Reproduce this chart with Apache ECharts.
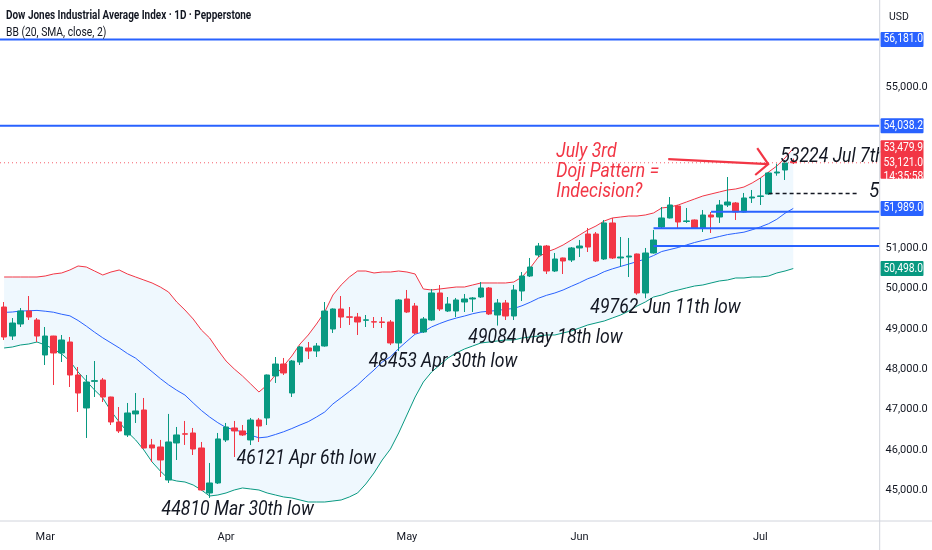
<!DOCTYPE html>
<html><head><meta charset="utf-8">
<script src="https://cdn.jsdelivr.net/npm/echarts@6/dist/echarts.min.js"></script>
<style>html,body{margin:0;padding:0;background:#fff}#c{width:932px;height:550px}</style>
</head><body><div id="c"></div>
<script>
// ---------- data ----------
const dates = [
'2026-02-23','2026-02-24','2026-02-25','2026-02-26','2026-02-27',
'2026-03-02','2026-03-03','2026-03-04','2026-03-05','2026-03-06',
'2026-03-09','2026-03-10','2026-03-11','2026-03-12','2026-03-13',
'2026-03-16','2026-03-17','2026-03-18','2026-03-19','2026-03-20',
'2026-03-23','2026-03-24','2026-03-25','2026-03-26','2026-03-27',
'2026-03-30','2026-03-31',
'2026-04-01','2026-04-02','2026-04-03',
'2026-04-06','2026-04-07','2026-04-08','2026-04-09','2026-04-10',
'2026-04-13','2026-04-14','2026-04-15','2026-04-16','2026-04-17',
'2026-04-20','2026-04-21','2026-04-22','2026-04-23','2026-04-24',
'2026-04-27','2026-04-28','2026-04-29','2026-04-30',
'2026-05-01',
'2026-05-04','2026-05-05','2026-05-06','2026-05-07','2026-05-08',
'2026-05-11','2026-05-12','2026-05-13','2026-05-14','2026-05-15',
'2026-05-18','2026-05-19','2026-05-20','2026-05-21','2026-05-22',
'2026-05-25','2026-05-26','2026-05-27','2026-05-28','2026-05-29',
'2026-06-01','2026-06-02','2026-06-03','2026-06-04','2026-06-05',
'2026-06-08','2026-06-09','2026-06-10','2026-06-11','2026-06-12',
'2026-06-15','2026-06-16','2026-06-17','2026-06-18','2026-06-19',
'2026-06-22','2026-06-23','2026-06-24','2026-06-25','2026-06-26',
'2026-06-29','2026-06-30',
'2026-07-01','2026-07-02','2026-07-03','2026-07-06','2026-07-07'];
const futureDates = ['2026-07-08','2026-07-09','2026-07-10','2026-07-13','2026-07-14',
'2026-07-15','2026-07-16','2026-07-17','2026-07-20','2026-07-21'];
const monthTicks = {'2026-03-02':'Mar','2026-04-01':'Apr','2026-05-01':'May','2026-06-01':'Jun','2026-07-01':'Jul'};

const open = [49544,48824,49123,49445,49222,48354,48824,48404,48676,47858,
47040,47700,47734,47312,46693,46371,46892,46990,46123,46073,
45254,46172,46400,46420,46048,44932,45180,46247,46544,46470,
46247,46742,46792,47834,48131,47411,48180,48528,48453,48577,
48999,49495,49300,49296,49215,49180,49175,49172,48652,49743,
49569,48925,49222,49892,49445,49445,49668,49743,49792,50016,
49346,49644,49321,49941,50313,50834,51057,50437,50760,50710,
51008,51355,51355,50735,51628,50760,50784,50859,49892,50884,
51528,51752,52049,51665,51702,51504,51826,51776,52074,52124,
51900,52248,52285,52347,52868,52942,53150];
const close = [48800,49147,49445,49296,48824,48824,48404,48726,47858,47411,
47684,47718,47312,46693,46470,46916,46966,46048,46048,45750,
46197,46371,46390,46023,45006,45180,46272,46569,46470,46371,
46742,46593,47858,48131,47908,48205,48552,48453,48577,49445,
49495,49296,49290,49172,49225,49170,49160,48652,49718,49420,
48900,49247,49892,49495,49619,49718,49743,49768,50016,49371,
49644,49321,49966,50313,50536,51057,50437,50735,50685,51008,
51057,51032,50685,51628,50760,50784,50809,49892,50884,51206,
51752,52074,51652,51680,51504,51826,51776,52074,52148,51900,
52248,52272,52300,52868,52892,53116,53121];
const low = [48726,48726,49048,49222,48676,48106,47610,48180,47560,46941,
46296,47312,47188,46618,46420,46321,46668,46030,45701,45329,
45180,45750,46123,45874,44990,44810,45155,46197,45824,46346,
46121,46197,46618,47660,47858,47312,48106,48255,48304,48560,
48900,49024,49098,48850,49048,49024,49024,48600,48453,49396,
48875,48900,49200,49445,49420,49296,49420,49420,49768,49346,
49084,49222,49222,49693,50288,50784,50362,50412,50362,50660,
50784,50908,50660,50710,50735,50536,50288,49850,49762,50870,
51504,51740,51504,51628,51479,51404,51380,51628,52024,51702,
51890,52124,52074,52322,52800,52694,53090];
const high = [49668,49271,49519,49817,49271,49048,48830,48850,48800,48056,
47858,48205,47784,47320,47064,47164,47411,47288,46272,46247,
46892,46569,46718,46544,46197,45676,46420,46668,46718,46618,
46792,46792,47870,48304,48280,48230,48577,48676,48651,49668,
49510,49817,49544,49396,49346,49296,49296,49222,49740,49966,
49644,49296,49991,50090,49792,49768,49867,49792,50164,50040,
49743,49718,50090,50412,50760,51132,51082,50884,50770,51032,
51206,51504,51404,51702,51752,51280,51256,50870,51008,51454,
52024,52272,52074,52000,51715,51950,51900,52198,52768,52148,
52372,52446,52744,52892,53100,53190,53224];

const bbUpper = [50288,50288,50288,50288,50288,50313,50363,50388,50462,50561,
50536,50437,50338,50412,50462,50363,50288,50214,50140,50040,
49916,49668,49470,49247,48974,48776,48478,48205,48007,47833,
47635,47436,47610,47858,48081,48329,48627,48850,49123,49420,
49842,50090,50288,50437,50437,50388,50412,50412,50437,50412,
50363,49991,49966,49991,50016,50040,50040,50090,50140,50140,
50140,50140,50164,50288,50512,50784,50908,50983,51082,51206,
51330,51454,51553,51677,51752,51776,51801,51801,51826,51876,
52000,52024,52074,52148,52223,52297,52347,52396,52446,52471,
52520,52620,52744,52892,53041,53240,53479.9];
const bbBasis = [49410,49420,49445,49450,49460,49440,49415,49365,49325,49210,
49070,48920,48780,48655,48530,48390,48275,48106,47940,47770,
47615,47480,47360,47165,46978,46816,46675,46555,46500,46444,
46365,46300,46320,46382,46450,46530,46618,46700,46816,46940,
47140,47294,47450,47610,47802,47982,48180,48310,48515,48695,
48870,48930,49050,49135,49210,49270,49320,49377,49420,49440,
49458,49488,49507,49575,49662,49761,49835,49892,49966,50058,
50146,50245,50320,50420,50490,50550,50610,50670,50735,50820,
50920,50970,51020,51082,51144,51194,51244,51292,51340,51370,
51400,51460,51530,51610,51720,51870,51989.0];
const bbLower = [48528,48552,48602,48627,48676,48602,48503,48379,48205,47932,
47709,47486,47288,46965,46693,46444,46247,45998,45701,45477,
45279,45229,45204,45130,45006,44857,44882,44932,45006,45056,
45031,45006,44932,44882,44833,44808,44758,44708,44708,44708,
44733,44758,44833,44932,45155,45428,45750,46023,46420,46866,
47312,47684,47932,48106,48280,48404,48503,48577,48652,48676,
48701,48726,48726,48776,48800,48825,48850,48850,48900,48949,
49024,49098,49148,49197,49272,49346,49445,49569,49668,49792,
49842,49916,49966,50016,50065,50090,50140,50189,50214,50264,
50264,50288,50288,50313,50388,50437,50498.0];

// horizontal drawings
const levelValues = [56181.0, 54038.2, 51908, 51496, 51057, 52359, 53121.0];
const levelStart  = [null, null, '2026-06-23', '2026-06-12', '2026-06-12', '2026-07-02', null];
const levelEnd    = [null, null, null, null, null, '2026-07-17', null];
const levelKind   = ['ray','ray','ray','ray','ray','dash','price'];

const yTickLabels = [45000,46000,47000,48000,49000,50000,51000,55000];

// annotations
const annoText  = ['44810 Mar 30th low','46121 Apr 6th low','48453 Apr 30th low','49084 May 18th low','49762 Jun 11th low','53224 Jul 7th'];
const annoDate  = ['2026-03-30','2026-04-06','2026-04-30','2026-05-18','2026-06-11','2026-07-07'];
const annoValue = [44810,46121,48453,49084,49762,53224];
const noteLines = ['July 3rd','Doji Pattern =','Indecision?'];
const noteDate = '2026-07-03', noteValue = 53100;
const dashNote = '5';

// axis price tags
const tagValues = [56181.0, 54038.2, 51989.0, 50498.0];
const bbUpperTag = 53479.9, lastPrice = 53121.0, countdown = '14:35:58';

// ---------- styling / layout ----------
const F = 'Roboto, "Liberation Sans", sans-serif';
const UP = '#089981', DOWN = '#f23645', BLUE = '#2962ff', INK = '#131722';
const annoOffset = [[-48,12],[-14,14],[-30,11],[-29,12],[-55,10],[-13,-2]];
const tagColors = [BLUE, BLUE, BLUE, UP];
const levelStyle = {
  ray:   {stroke: BLUE, lineWidth: 2},
  dash:  {stroke: INK, lineWidth: 1.6, lineDash: [4, 3]},
  price: {stroke: DOWN, lineWidth: 1, lineDash: [1, 3], opacity: 0.8}
};

const allDates = dates.concat(futureDates);
const candleData = dates.map((d, i) => [open[i], close[i], low[i], high[i]]);
const bandWidth = bbUpper.map((u, i) => u - bbLower[i]);
const fmt = v => v.toLocaleString('en-US', {minimumFractionDigits: 1, maximumFractionDigits: 1});

const chart = echarts.init(document.getElementById('c'));
chart.setOption({
  animation: false,
  backgroundColor: '#ffffff',
  grid: {left: -2.12, top: 0, width: 881.7, height: 521, containLabel: false},
  xAxis: {
    type: 'category', data: allDates, boundaryGap: true,
    axisLine: {show: false}, axisTick: {show: false}, splitLine: {show: false},
    axisLabel: {
      interval: (i, v) => monthTicks[v] !== undefined,
      formatter: v => monthTicks[v] || '',
      color: INK, fontSize: 11, fontFamily: F, margin: 11
    }
  },
  yAxis: {
    type: 'value', position: 'right', min: 44237, max: 57158, splitNumber: 13, z: 60,
    axisLine: {show: false}, axisTick: {show: false}, splitLine: {show: false},
    axisLabel: {
      formatter: v => yTickLabels.indexOf(v) >= 0 ? fmt(v) : '',
      color: INK, fontSize: 11, fontFamily: F, margin: 6, align: 'left'
    }
  },
  series: [
    {type: 'line', data: bbLower, stack: 'bb', symbol: 'none', silent: true, z: 1,
     lineStyle: {opacity: 0}},
    {type: 'line', data: bandWidth, stack: 'bb', symbol: 'none', silent: true, z: 1,
     lineStyle: {opacity: 0}, areaStyle: {color: 'rgba(33,150,243,0.07)', opacity: 1}},
    {type: 'line', data: bbUpper, symbol: 'none', silent: true, z: 2, lineStyle: {color: DOWN, width: 1}},
    {type: 'line', data: bbBasis, symbol: 'none', silent: true, z: 2, lineStyle: {color: BLUE, width: 1}},
    {type: 'line', data: bbLower, symbol: 'none', silent: true, z: 2, lineStyle: {color: UP, width: 1}},
    {type: 'candlestick', data: candleData, barWidth: 6, z: 3,
     itemStyle: {color: UP, color0: DOWN, borderColor: UP, borderColor0: DOWN, borderWidth: 1}},
    {type: 'custom', z: 4, silent: true,
     data: levelValues.map((v, i) => [0, v]),
     renderItem: (params, api) => {
       const i = params.dataIndex, cs = params.coordSys, v = levelValues[i];
       const y = api.coord([0, v])[1];
       const x1 = levelStart[i] ? api.coord([allDates.indexOf(levelStart[i]), v])[0] : cs.x;
       const x2 = levelEnd[i] ? api.coord([allDates.indexOf(levelEnd[i]), v])[0] : cs.x + cs.width;
       return {type: 'line', shape: {x1: x1, y1: y, x2: x2, y2: y}, style: Object.assign({fill: null}, levelStyle[levelKind[i]])};
     }}
  ]
});

// ---------- annotations & price tags ----------
const px = (d, v) => chart.convertToPixel({xAxisIndex: 0, yAxisIndex: 0}, [d, v]);
const py = v => chart.convertToPixel({yAxisIndex: 0}, v);
const g = [];
function txt(t, x, y, font, fill, sx, z) {
  g.push({type: 'text', x: x, y: y, scaleX: sx, z: z,
    style: {text: t, x: 0, y: 0, font: font, fill: fill, verticalAlign: 'middle', align: 'left'}});
}
const annoFont = 'italic 21px ' + F;
annoText.forEach((t, i) => {
  const p = px(annoDate[i], annoValue[i]);
  txt(t, p[0] + annoOffset[i][0], p[1] + annoOffset[i][1], annoFont, INK, 0.84, 40);
});
const np = px(noteDate, noteValue);
noteLines.forEach((t, k) => txt(t, np[0] - 220.6, np[1] - 11.6 + k * 20, annoFont, DOWN, 0.84, 40));
const tip = [np[0] - 8.6, np[1] + 0.4];
g.push({type: 'polyline', z: 41, shape: {points: [[np[0] - 108.6, np[1] - 4.6], tip]}, style: {stroke: DOWN, lineWidth: 2.2, fill: null}});
g.push({type: 'polyline', z: 41, shape: {points: [[tip[0] - 11, tip[1] - 16], tip, [tip[0] - 13, tip[1] + 11]]}, style: {stroke: DOWN, lineWidth: 2.2, fill: null}});
const dEnd = px(levelEnd[5], levelValues[5]);
txt(dashNote, dEnd[0] + 10, dEnd[1] - 2, annoFont, INK, 0.9, 40);
// price-axis panel
g.push({type: 'rect', z: 50, shape: {x: 880.2, y: 0, width: 52, height: 521}, style: {fill: '#ffffff'}});
g.push({type: 'line', z: 80, shape: {x1: 879.7, y1: 0, x2: 879.7, y2: 550}, style: {stroke: '#d1d4dc', lineWidth: 1}});
g.push({type: 'line', z: 80, shape: {x1: 0, y1: 521, x2: 932, y2: 521}, style: {stroke: '#d1d4dc', lineWidth: 1}});
txt('USD', 889, 17, '11px ' + F, INK, 0.95, 70);
const tagFont = '12px ' + F;
tagValues.forEach((v, i) => {
  const y = py(v);
  g.push({type: 'rect', z: 70, shape: {x: 880.5, y: y - 7.5, width: 43, height: 15, r: 1}, style: {fill: tagColors[i]}});
  txt(fmt(v), 883.5, y, tagFont, '#fff', 0.86, 71);
});
const yU = py(bbUpperTag), yP = py(lastPrice);
g.push({type: 'rect', z: 70, shape: {x: 880.5, y: yU - 8, width: 43, height: yP - yU + 24, r: 1}, style: {fill: DOWN}});
txt(fmt(bbUpperTag), 883.5, yU, tagFont, '#fff', 0.86, 71);
txt(fmt(lastPrice), 883.5, yP, tagFont, '#fff', 0.86, 71);
txt(countdown, 883.5, yP + 14, tagFont, '#fff', 0.86, 71);
// header
txt('Dow Jones Industrial Average Index \u00b7 1D \u00b7 Pepperstone', 6, 16, 'bold 12px ' + F, INK, 0.83, 90);
txt('BB (20, SMA, close, 2)', 6, 33, '12px ' + F, INK, 0.86, 90);
chart.setOption({graphic: {elements: g}});
</script></body></html>
